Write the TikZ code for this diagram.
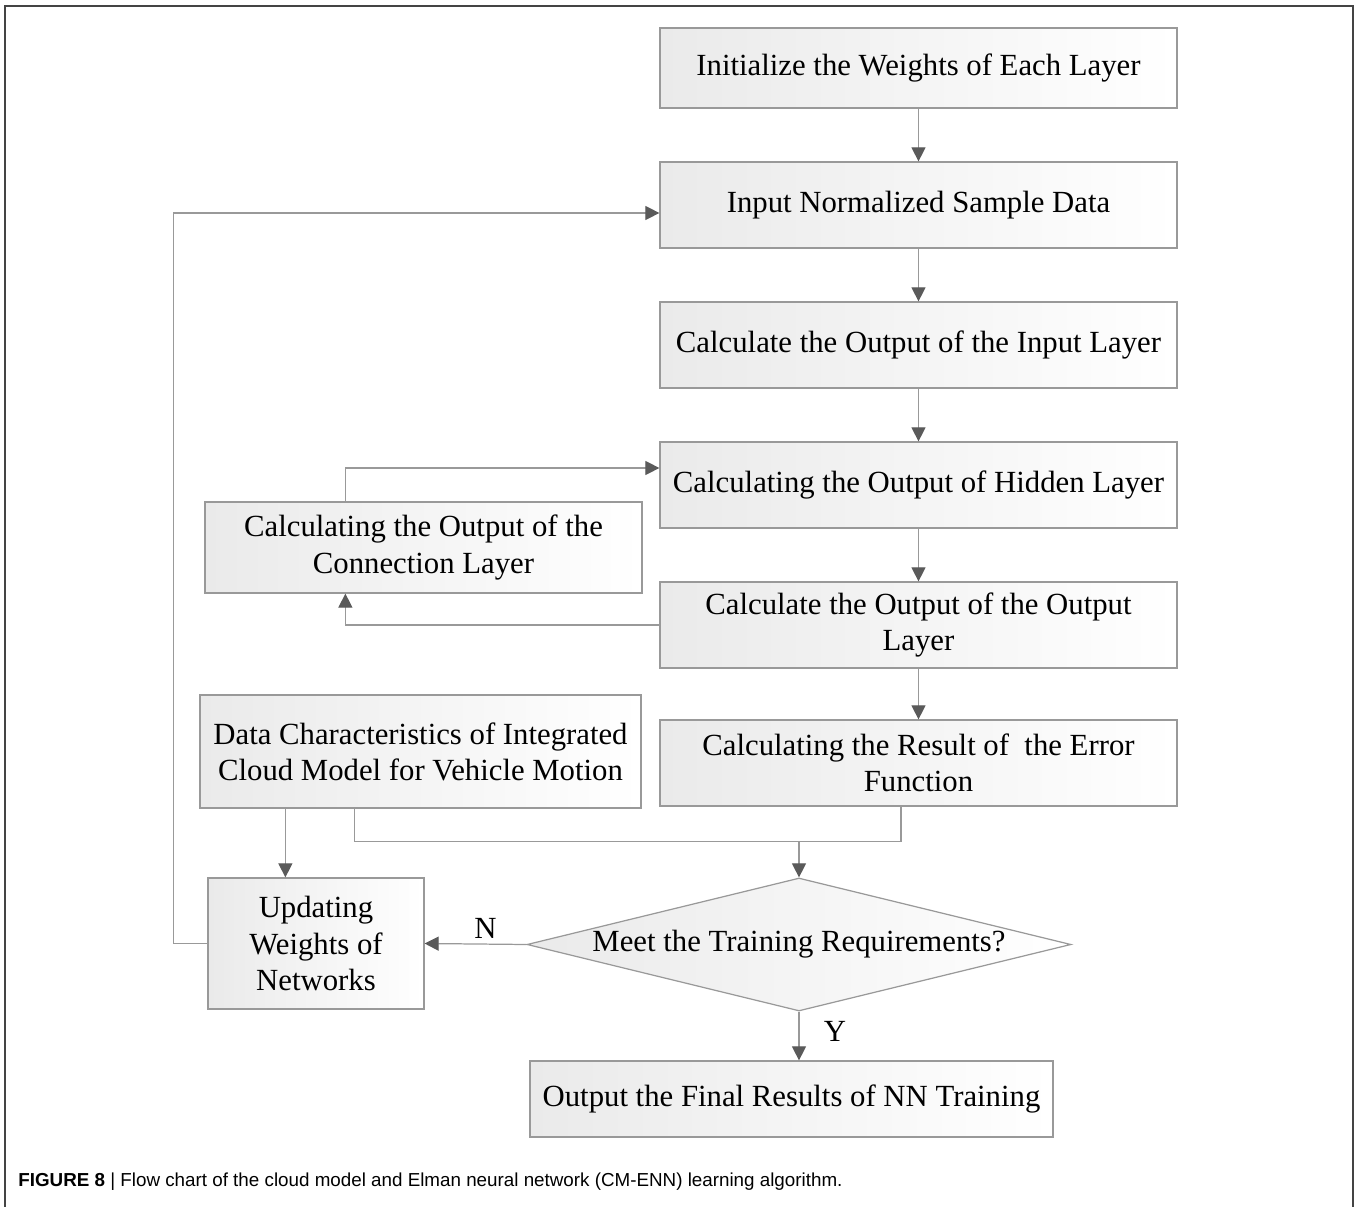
\documentclass[tikz,border=0pt]{standalone}
\usepackage{fontspec}
\setmainfont{Liberation Serif}
\setsansfont{Liberation Sans}
\usetikzlibrary{arrows.meta,shapes.geometric}
\definecolor{linegray}{HTML}{999999}
\definecolor{tipgray}{HTML}{5A5A5A}
\definecolor{boxgray}{HTML}{EAEAEA}
\definecolor{framegray}{HTML}{444444}
\tikzset{
	stepbox/.style={draw=linegray,line width=0.7pt,left color=boxgray,right color=white,
		minimum width=10.34cm,minimum height=1.72cm,align=center,inner sep=0pt,
		font=\fontsize{17.5}{20.5}\selectfont},
	decision/.style={diamond,draw=linegray,line width=0.7pt,left color=boxgray,right color=white,
		aspect=4,minimum width=10.88cm,minimum height=2.66cm,inner sep=0pt,
		font=\fontsize{17.5}{20.5}\selectfont},
	link/.style={draw=linegray,line width=0.7pt},
	arr/.style={link,-{Triangle[length=8pt,width=8pt,color=tipgray]}},
	tag/.style={font=\fontsize{17.5}{20.5}\selectfont,inner sep=3pt}
}
\begin{document}
\begin{tikzpicture}
		\useasboundingbox (0,0) rectangle (27.18,-24.14);
		\draw[framegray,line width=1.1pt] (0.1,-24.14) -- (0.1,-0.12) -- (27.06,-0.12) -- (27.06,-24.14);
		\node[stepbox,minimum height=1.6cm] (init) at (18.37,-1.36) {Initialize the Weights of Each Layer};
		\node[stepbox] (input) at (18.37,-4.10) {Input Normalized Sample Data};
		\node[stepbox] (calcin) at (18.37,-6.90) {Calculate the Output of the Input Layer};
		\node[stepbox] (hidden) at (18.37,-9.70) {Calculating the Output of Hidden Layer};
		\node[stepbox] (outl) at (18.37,-12.50) {Calculate the Output of the Output\\Layer};
		\node[stepbox] (err) at (18.37,-15.26) {Calculating the Result of \ the Error\\Function};
		\node[stepbox,minimum width=8.74cm,minimum height=1.82cm] (conn) at (8.47,-10.95) {Calculating the Output of the\\Connection Layer};
		\node[stepbox,minimum width=8.82cm,minimum height=2.26cm] (data) at (8.41,-15.03) {Data Characteristics of Integrated\\Cloud Model for Vehicle Motion};
		\node[stepbox,minimum width=4.32cm,minimum height=2.62cm] (upd) at (6.32,-18.87) {Updating\\Weights of\\Networks};
		\node[decision] (dia) at (15.98,-18.89) {Meet the Training Requirements?};
		\node[stepbox,minimum width=10.46cm,minimum height=1.52cm] (final) at (15.83,-21.98) {Output the Final Results of NN Training};
		\draw[arr] (init) -- (input);
		\draw[arr] (input) -- (calcin);
		\draw[arr] (calcin) -- (hidden);
		\draw[arr] (hidden) -- (outl);
		\draw[arr] (outl) -- (err);
		\draw[arr] ([xshift=2.82cm]conn.north west) |- ([yshift=0.34cm]hidden.west);
		\draw[arr] (outl.west) -| ([xshift=2.82cm]conn.south west);
		\coordinate (d1) at ([xshift=1.72cm]data.south west);
		\draw[arr] (d1) -- (d1 |- upd.north);
		\coordinate (d2) at ([xshift=3.1cm]data.south west);
		\coordinate (mrg) at ([yshift=0.72cm]dia.north);
		\draw[link] (d2) |- (mrg) -| ([xshift=-0.35cm]err.south);
		\draw[arr] (mrg) -- (dia.north);
		\draw[arr] (dia.west) -- (upd.east) node[tag,midway,above,xshift=0.2cm] {N};
		\draw[arr] (upd.west) -- ++(-0.68,0) |- ([yshift=-0.16cm]input.west);
		\draw[arr] (dia.south) -- (dia.south |- final.north) node[tag,midway,right,xshift=0.38cm,yshift=0.1cm] {Y};
		\node[anchor=west,inner sep=0pt,font=\sffamily\fontsize{10.7}{12}\selectfont] (cap) at (0.36,-23.64) {\textbf{FIGURE 8} | Flow chart of the cloud model and Elman neural network (CM-ENN) learning algorithm.};
	\end{tikzpicture}
\end{document}
